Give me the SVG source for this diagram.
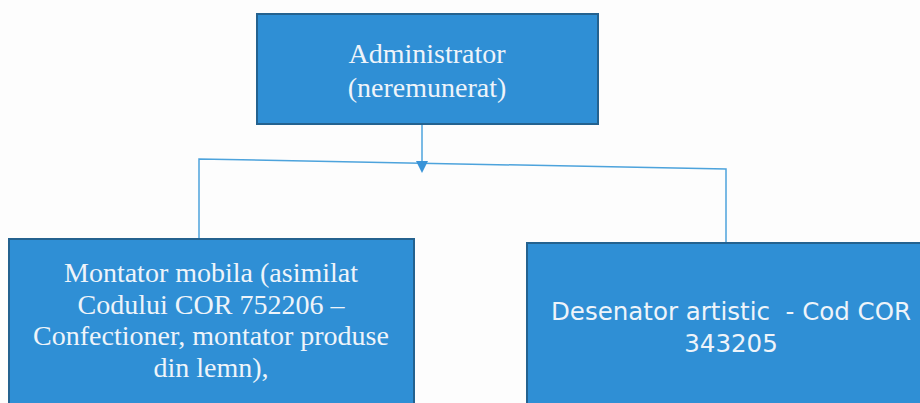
<svg xmlns="http://www.w3.org/2000/svg" width="920" height="403" viewBox="0 0 920 403">
<style>
.box{fill:#2f8fd5;stroke:#24628f;stroke-width:2}
.serif{font-family:"Liberation Serif","DejaVu Serif",serif;font-size:28px;fill:#eef4fa;text-anchor:middle}
.sans{font-family:"DejaVu Sans","Liberation Sans",sans-serif;font-size:24.5px;fill:#eef4fa;text-anchor:middle}
.conn{stroke:#4da3dc;stroke-width:1.5;fill:none}
.head{fill:#3a94d8}
</style>
<rect width="920" height="403" fill="#fdfdfd"/>
<g id="connectors">
<path class="conn" d="M422,124 V165"/>
<path class="conn" d="M199,239 V159 L726,169 V243"/>
<polygon class="head" points="416,161 428,161 422,173"/>
</g>
<g id="admin">
<rect class="box" x="257" y="14" width="341" height="110"/>
<text class="serif" x="427" y="63" font-size="30">Administrator</text>
<text class="serif" x="427" y="97" font-size="30">(neremunerat)</text>
</g>
<g id="montator">
<rect class="box" x="9" y="239" width="405" height="170"/>
<text class="serif" x="211" y="282">Montator mobila (asimilat</text>
<text class="serif" x="211" y="314">Codului COR 752206 –</text>
<text class="serif" x="211" y="345">Confectioner, montator produse</text>
<text class="serif" x="211" y="377">din lemn),</text>
</g>
<g id="desenator">
<rect class="box" x="527" y="243" width="400" height="170"/>
<text class="sans" x="731" y="320" xml:space="preserve">Desenator artistic  - Cod COR</text>
<text class="sans" x="731" y="352">343205</text>
</g>
</svg>
